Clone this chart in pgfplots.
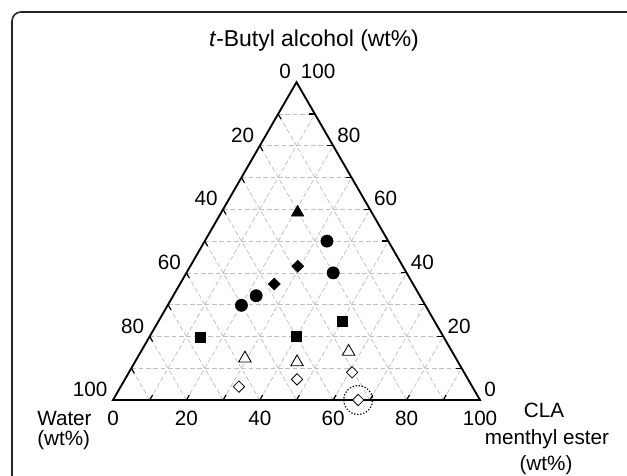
\documentclass[border=0pt]{standalone}
\usepackage{pgfplots}
\pgfplotsset{compat=1.18}
\usepackage{pgfplotstable}
\usepackage{fontspec}
\setmainfont{Liberation Sans}

% ternary data: W = water, T = t-butyl alcohol, C = CLA menthyl ester (wt%)
\pgfplotstableread{
W T C
16.7 50.0 33.3
20.0 40.0 40.0
44.6 32.8 22.6
50.1 29.8 20.1
}\fcircle
\pgfplotstableread{
W T C
28.6 42.1 29.3
37.8 36.5 25.7
}\fdiamond
\pgfplotstableread{
W T C
20.2 59.0 20.8
}\ftriangle
\pgfplotstableread{
W T C
66.4 19.7 13.9
40.0 20.0 40.0
25.2 24.8 50.0
}\fsquare
\pgfplotstableread{
W T C
57.5 13.1 29.4
43.9 11.9 44.2
28.2 15.2 56.6
}\otriangle
\pgfplotstableread{
W T C
63.6 4.2 32.2
46.6 6.5 46.9
30.5 8.7 60.8
33.2 0.0 66.8
}\odiamond

\begin{document}
\begin{tikzpicture}[x=0.75pt,y=0.75pt]
\fontsize{15.5}{18}\selectfont
% frame (runs off the right and bottom edges)
\draw[line width=1.2pt, black!85, rounded corners=6.75pt] (12,-30) -- (12,463) -- (680,463);

\begin{axis}[
  at={(84.75pt,56.25pt)}, anchor=south west,
  scale only axis, width=275.25pt, height=238.35pt,
  xmin=0, xmax=100, ymin=0, ymax=86.60254,
  hide axis, clip=false,
  every axis plot/.append style={only marks},
]
% grid
\pgfplotsinvokeforeach{10,20,...,90}{
  \draw[black!25, line width=0.55pt, dash pattern=on 3.5pt off 2pt]
    (axis cs:{#1/2},{0.8660254*#1}) -- (axis cs:{100-#1/2},{0.8660254*#1});
  \draw[black!25, line width=0.55pt, dash pattern=on 3.5pt off 2pt]
    (axis cs:#1,0) -- (axis cs:{#1+(100-#1)/2},{0.8660254*(100-#1)});
  \draw[black!25, line width=0.55pt, dash pattern=on 3.5pt off 2pt]
    (axis cs:{100-#1},0) -- (axis cs:{(100-#1)/2},{0.8660254*(100-#1)});
  % ticks
  \draw[black, line width=0.9pt] (axis cs:#1,0) -- ++(axis direction cs:0.8,1.386);
  \draw[black, line width=0.9pt] (axis cs:{(100-#1)/2},{0.8660254*(100-#1)}) -- ++(axis direction cs:0.8,-1.386);
  \draw[black, line width=0.9pt] (axis cs:{100-#1/2},{0.8660254*#1}) -- ++(axis direction cs:-1.6,0);
}
% triangle
\draw[black, line width=1.4pt] (axis cs:0,0) -- (axis cs:100,0) -- (axis cs:50,86.60254) -- cycle;
% tick labels
\pgfplotsinvokeforeach{0,20,...,100}{
  \node[anchor=base east, inner sep=0pt, xshift=-4pt, yshift=2.5pt]
    at (axis cs:{(100-#1)/2},{0.8660254*(100-#1)}) {#1};
  \node[anchor=base west, inner sep=0pt, xshift=3pt, yshift=2.5pt]
    at (axis cs:{100-#1/2},{0.8660254*#1}) {#1};
  \node[anchor=base, inner sep=0pt, yshift=-18.75pt]
    at (axis cs:#1,0) {#1};
}
% data
\addplot[mark=*, mark size=4.6pt, black]
  table[x expr=\thisrow{C}+0.5*\thisrow{T}, y expr=0.8660254*\thisrow{T}] {\fcircle};
\addplot[mark=square*, mark size=3.2pt, black, mark options={rotate=45}]
  table[x expr=\thisrow{C}+0.5*\thisrow{T}, y expr=0.8660254*\thisrow{T}] {\fdiamond};
\addplot[mark=triangle*, mark size=5.4pt, black]
  table[x expr=\thisrow{C}+0.5*\thisrow{T}, y expr=0.8660254*\thisrow{T}] {\ftriangle};
\addplot[mark=square*, mark size=3.7pt, black]
  table[x expr=\thisrow{C}+0.5*\thisrow{T}, y expr=0.8660254*\thisrow{T}] {\fsquare};
\addplot[mark=triangle*, mark size=5.4pt, black, mark options={fill=white, line width=0.65pt}]
  table[x expr=\thisrow{C}+0.5*\thisrow{T}, y expr=0.8660254*\thisrow{T}] {\otriangle};
\addplot[mark=square*, mark size=3.0pt, black, mark options={fill=white, line width=0.6pt, rotate=45}]
  table[x expr=\thisrow{C}+0.5*\thisrow{T}, y expr=0.8660254*\thisrow{T}] {\odiamond};
% dotted circle round the last point
\draw[black, line width=1.3pt, line cap=round, dash pattern=on 0pt off 2.3pt]
  (axis cs:66.8,0) circle (10.8pt);
\end{axis}

% axis titles
\node[anchor=base, inner sep=0pt, font=\fontsize{17.2}{20}\selectfont] at (314,428) {\textit{t}-Butyl alcohol (wt\%)};
\node[anchor=base west, inner sep=0pt] at (37,50) {Water};
\node[anchor=base west, inner sep=0pt] at (37,30) {(wt\%)};
\node[anchor=base, inner sep=0pt] at (544,58) {CLA};
\node[anchor=base, inner sep=0pt] at (547,31) {menthyl ester};
\node[anchor=base, inner sep=0pt] at (546,5) {(wt\%)};

\pgfresetboundingbox
\path[use as bounding box] (0,0) rectangle (627,475);
\end{tikzpicture}
\end{document}
